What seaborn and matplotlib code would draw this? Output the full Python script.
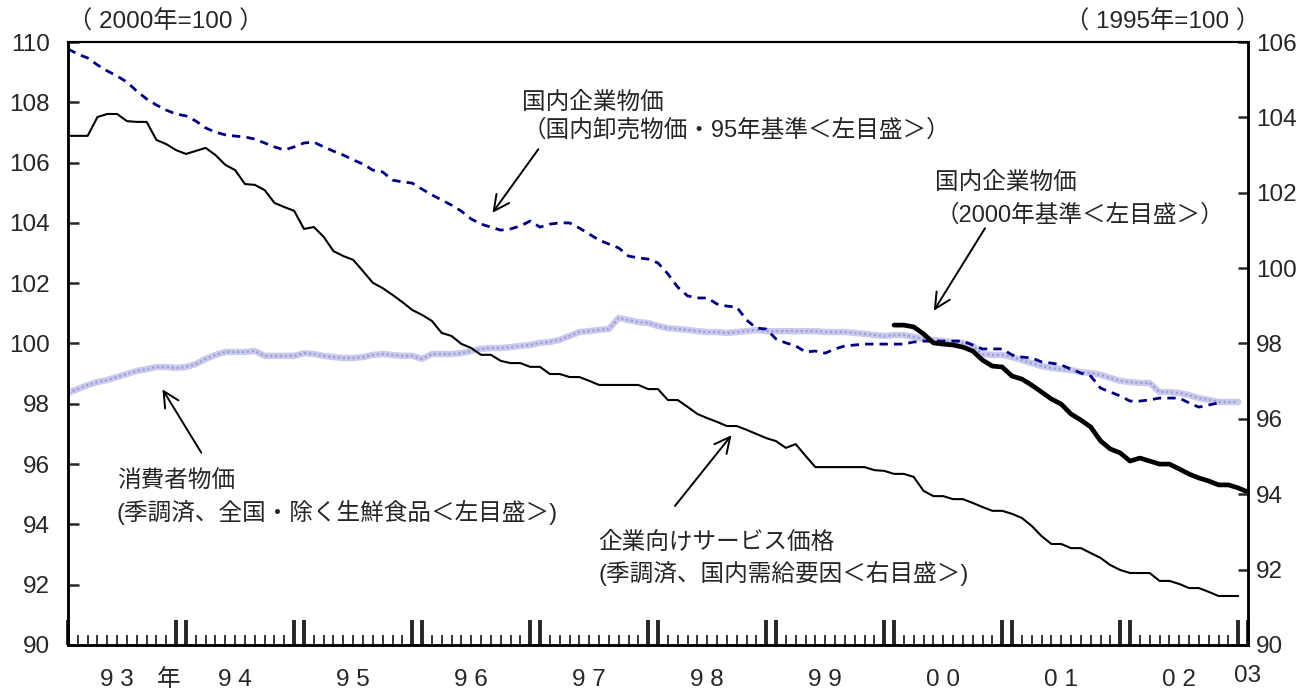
import numpy as np
import pandas as pd
import seaborn as sns
import matplotlib.pyplot as plt

# monthly slots: 0 = Jan 1993 ... 119 = Dec 2002, 120 = Jan 2003
months = np.arange(120)
months_wpi = np.arange(118)
months_cgpi = np.arange(84, 121)

# 企業向けサービス価格 (right axis, 1995=100)
services = [103.51, 103.51, 103.51, 104.01, 104.09, 104.09, 103.90, 103.88, 103.88, 103.40,
            103.29, 103.13, 103.03, 103.11, 103.19, 103.00, 102.74, 102.60, 102.23, 102.21,
            102.07, 101.73, 101.62, 101.52, 101.04, 101.09, 100.83, 100.45, 100.32, 100.22,
            99.92, 99.61, 99.47, 99.29, 99.10, 98.89, 98.76, 98.60, 98.28, 98.20,
            97.99, 97.88, 97.70, 97.70, 97.54, 97.48, 97.48, 97.38, 97.38, 97.19,
            97.19, 97.11, 97.11, 97.01, 96.90, 96.90, 96.90, 96.90, 96.90, 96.79,
            96.79, 96.50, 96.50, 96.32, 96.13, 96.02, 95.92, 95.81, 95.81, 95.71,
            95.60, 95.49, 95.41, 95.23, 95.33, 95.02, 94.72, 94.72, 94.72, 94.72,
            94.72, 94.72, 94.64, 94.62, 94.54, 94.54, 94.46, 94.09, 93.95, 93.95,
            93.87, 93.87, 93.77, 93.66, 93.56, 93.56, 93.48, 93.37, 93.16, 92.89,
            92.68, 92.68, 92.57, 92.57, 92.44, 92.31, 92.12, 91.99, 91.91, 91.91,
            91.91, 91.70, 91.70, 91.62, 91.51, 91.51, 91.41, 91.30, 91.30, 91.30]

# 国内卸売物価 95年基準 (left axis)
wpi = [109.77, 109.60, 109.47, 109.24, 109.04, 108.87, 108.67, 108.37, 108.11, 107.91,
       107.74, 107.61, 107.55, 107.38, 107.15, 107.01, 106.92, 106.88, 106.85, 106.78,
       106.65, 106.52, 106.42, 106.52, 106.65, 106.68, 106.52, 106.38, 106.25, 106.09,
       105.95, 105.75, 105.69, 105.42, 105.36, 105.32, 105.12, 104.93, 104.76, 104.59,
       104.39, 104.13, 103.96, 103.86, 103.76, 103.80, 103.90, 104.06, 103.86, 103.96,
       104.00, 104.00, 103.83, 103.63, 103.43, 103.30, 103.17, 102.90, 102.84, 102.80,
       102.67, 102.31, 101.87, 101.58, 101.51, 101.51, 101.31, 101.24, 101.21, 100.78,
       100.51, 100.48, 100.15, 100.02, 99.92, 99.72, 99.75, 99.68, 99.82, 99.92,
       99.95, 99.98, 99.98, 99.98, 99.98, 99.98, 100.05, 100.08, 100.08, 100.08,
       100.08, 100.08, 99.95, 99.82, 99.82, 99.82, 99.62, 99.55, 99.52, 99.39,
       99.35, 99.29, 99.15, 99.02, 98.92, 98.52, 98.39, 98.26, 98.09, 98.09,
       98.13, 98.19, 98.19, 98.19, 98.03, 97.89, 97.96, 98.03]

# 消費者物価 (left axis)
cpi = [98.36, 98.49, 98.62, 98.72, 98.79, 98.89, 98.99, 99.09, 99.15, 99.22,
       99.22, 99.19, 99.22, 99.32, 99.49, 99.62, 99.72, 99.72, 99.72, 99.75,
       99.59, 99.59, 99.59, 99.59, 99.68, 99.65, 99.59, 99.55, 99.52, 99.52,
       99.55, 99.62, 99.65, 99.62, 99.59, 99.59, 99.49, 99.65, 99.65, 99.65,
       99.68, 99.75, 99.82, 99.85, 99.85, 99.88, 99.92, 99.95, 100.02, 100.05,
       100.12, 100.25, 100.38, 100.41, 100.45, 100.48, 100.85, 100.78, 100.71, 100.68,
       100.58, 100.51, 100.48, 100.45, 100.41, 100.38, 100.38, 100.35, 100.38, 100.41,
       100.45, 100.41, 100.41, 100.41, 100.41, 100.41, 100.41, 100.38, 100.38, 100.38,
       100.35, 100.32, 100.28, 100.25, 100.28, 100.28, 100.22, 100.15, 100.12, 100.08,
       100.05, 100.02, 99.92, 99.65, 99.62, 99.62, 99.55, 99.45, 99.35, 99.25,
       99.19, 99.15, 99.12, 99.05, 99.02, 98.96, 98.86, 98.76, 98.72, 98.69,
       98.69, 98.39, 98.39, 98.36, 98.29, 98.19, 98.13, 98.06, 98.06, 98.06]

# 国内企業物価 2000年基準 (left axis)
cgpi = [100.61, 100.61, 100.55, 100.32, 100.02, 99.98, 99.95, 99.88, 99.75, 99.45,
        99.25, 99.22, 98.92, 98.82, 98.62, 98.39, 98.16, 97.99, 97.66, 97.46,
        97.23, 96.77, 96.50, 96.37, 96.10, 96.20, 96.10, 96.00, 96.00, 95.84,
        95.67, 95.54, 95.44, 95.31, 95.31, 95.21, 95.07]

year_labels = ["9 3", "9 4", "9 5", "9 6", "9 7", "9 8", "9 9", "0 0", "0 1", "0 2"]
left_ticks = list(range(90, 111, 2))
right_ticks = list(range(90, 107, 2))

sns.set_style("ticks")
plt.rcParams['font.family'] = ['Liberation Sans', 'Noto Sans CJK JP', 'DejaVu Sans']

fig = plt.figure(figsize=(13.1, 6.91), dpi=100)
ax = fig.add_axes([0.0519, 0.0666, 0.9008, 0.8726])
ax2 = ax.twinx()

# speckled lavender band for CPI: light base with a dotted darker overlay
sns.lineplot(x=months, y=cpi, ax=ax, color="#cacaec", linewidth=4.6, zorder=2)
sns.lineplot(x=months, y=cpi, ax=ax, color="#9c9cd6", linewidth=1.6,
             linestyle=(0, (1, 1.2)), zorder=2)
sns.lineplot(x=months_wpi, y=wpi, ax=ax, color="#000080", linewidth=2,
             linestyle=(0, (3, 2.2)), zorder=3)
sns.lineplot(x=months_cgpi, y=cgpi, ax=ax, color="black", linewidth=3.4, zorder=4)
sns.lineplot(x=months, y=services, ax=ax2, color="black", linewidth=1.5)

ax.set_xlim(0, 120)
ax.set_ylim(90, 110)
ax2.set_ylim(90, 106)
ax.set_yticks(left_ticks)
ax2.set_yticks(right_ticks)
ax.set_xlabel("")
ax.set_ylabel("")
ax2.set_ylabel("")

# month ticks, tall double ticks at each year boundary
big = [0] + [t for y in range(1, 11) for t in (12 * y - 1, 12 * y)]
ax.set_xticks(big)
ax.set_xticks(range(121), minor=True)
ax.set_xticklabels([])
ax.tick_params(axis='x', which='major', direction='in', length=18, width=2.8)
ax.tick_params(axis='x', which='minor', direction='in', length=7, width=1.3)
ax.tick_params(axis='y', direction='in', length=8, width=1.8, labelsize=17.5, pad=13)
ax2.tick_params(axis='y', direction='in', length=7, width=1.8, labelsize=17.5, pad=6)

for a in (ax, ax2):
    for s in a.spines.values():
        s.set_visible(True)
        s.set_color("black")
        s.set_linewidth(1.8)
    a.spines['top'].set_linewidth(1.5)

trans = ax.get_xaxis_transform()
for i, lab in enumerate(year_labels):
    ax.text(5 + 12 * i, -0.058, lab, transform=trans, ha='center', va='center', fontsize=17.5)
ax.text(10.2, -0.058, "年", transform=trans, ha='center', va='center', fontsize=17)
ax.text(120, -0.051, "03", transform=trans, ha='center', va='center', fontsize=17.5)

fig.text(68 / 1310, 1 - 22 / 691, "（ 2000年=100 ）", ha='left', va='center', fontsize=17.5)
fig.text(1260 / 1310, 1 - 22 / 691, "（ 1995年=100 ）", ha='right', va='center', fontsize=17.5)

fs = 17
ax.text(46.2, 107.98, "国内企業物価", fontsize=fs, va='center')
ax.text(46.2, 107.08, "（国内卸売物価・95年基準＜左目盛＞）", fontsize=fs, va='center')
ax.text(88.2, 105.32, "国内企業物価", fontsize=fs, va='center')
ax.text(88.2, 104.26, "（2000年基準＜左目盛＞）", fontsize=fs, va='center')
ax.text(4.98, 95.44, "消費者物価", fontsize=fs, va='center')
ax.text(4.98, 94.41, "(季調済、全国・除く生鮮食品＜左目盛＞)", fontsize=fs, va='center')
ax.text(53.9, 93.38, "企業向けサービス価格", fontsize=fs, va='center')
ax.text(53.9, 92.39, "(季調済、国内需給要因＜右目盛＞)", fontsize=fs, va='center')

arrow = dict(arrowstyle="->", color="black", lw=1.4, mutation_scale=28)
ax.annotate("", xy=(43.0, 104.26), xytext=(48.0, 106.52), arrowprops=arrow)
ax.annotate("", xy=(87.9, 101.01), xytext=(93.4, 103.90), arrowprops=arrow)
ax.annotate("", xy=(9.46, 98.56), xytext=(13.7, 96.30), arrowprops=arrow)
ax.annotate("", xy=(67.65, 97.03), xytext=(61.55, 94.54), arrowprops=arrow)

fig.savefig("out.png", dpi=100)
